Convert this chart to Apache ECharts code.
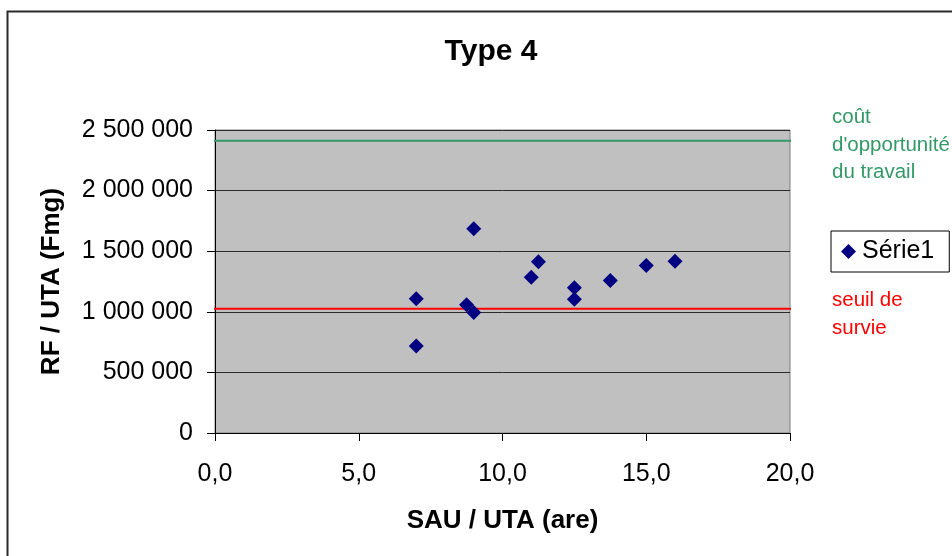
<!DOCTYPE html>
<html>
<head>
<meta charset="utf-8">
<style>
  html, body { margin: 0; padding: 0; background: #ffffff; }
  #chart { width: 952px; height: 556px; }
</style>
<script src="https://cdn.jsdelivr.net/npm/echarts@6/dist/echarts.min.js"></script>
</head>
<body>
<div id="chart"></div>
<script>
// SAU / UTA (are) and RF / UTA (Fmg) for the Type 4 farms
const sauUta = [7.0, 7.0, 9.0, 8.75, 9.0, 11.25, 11.0, 12.5, 12.5, 13.75, 15.0, 16.0];
const rfUta = [1107000, 717000, 1686000, 1058000, 994000, 1412000, 1286000, 1198000, 1104000, 1258000, 1382000, 1418000];

// Reference levels
const coutOpportunite = 2412000;
const seuilSurvie = 1025000;
// horizontal span of the reference lines (in SAU / UTA units)
const refSpan = [-0.15, 20.6];

const fontFamily = 'Arial, "Liberation Sans", Helvetica, sans-serif';

function fmtThousands(v) {
  return String(Math.round(v)).replace(/\B(?=(\d{3})+(?!\d))/g, ' ');
}

const chart = echarts.init(document.getElementById('chart'), null, { renderer: 'canvas' });

const points = sauUta.map((x, i) => [x, rfUta[i]]);

chart.setOption({
  backgroundColor: '#ffffff',
  animation: false,
  textStyle: { fontFamily: fontFamily },
  title: {
    text: 'Type 4',
    left: 486,
    top: 32,
    textAlign: 'center',
    textStyle: { fontFamily: fontFamily, fontSize: 30, fontWeight: 'bold', color: '#000' }
  },
  grid: {
    left: 215, right: 162, top: 130, bottom: 123,
    show: true,
    backgroundColor: '#c0c0c0',
    borderColor: '#808080',
    borderWidth: 1
  },
  legend: {
    left: 831,
    top: 231,
    padding: [8, 15, 8, 10],
    borderColor: '#000',
    borderWidth: 1,
    backgroundColor: '#fff',
    itemWidth: 15,
    itemHeight: 15,
    data: [{ name: 'Série1', icon: 'diamond', itemStyle: { color: '#000080', opacity: 1 } }],
    textStyle: { fontFamily: fontFamily, fontSize: 25, color: '#000', padding: [0, 0, 0, 1] }
  },
  xAxis: {
    type: 'value',
    min: 0, max: 20, interval: 5,
    name: 'SAU / UTA (are)',
    nameLocation: 'middle',
    nameGap: 75,
    nameTextStyle: { fontFamily: fontFamily, fontSize: 26, fontWeight: 'bold', color: '#000' },
    axisLine: { show: true, onZero: false, lineStyle: { color: '#000', width: 1 } },
    axisTick: { show: true, inside: false, length: 8, lineStyle: { color: '#000' } },
    axisLabel: {
      margin: 29,
      fontFamily: fontFamily, fontSize: 25, color: '#000',
      formatter: v => v.toFixed(1).replace('.', ',')
    },
    splitLine: { show: false }
  },
  yAxis: {
    type: 'value',
    min: 0, max: 2500000, interval: 500000,
    name: 'RF / UTA (Fmg)',
    nameLocation: 'middle',
    nameGap: 150,
    nameTextStyle: { fontFamily: fontFamily, fontSize: 26, fontWeight: 'bold', color: '#000' },
    axisLine: { show: true, onZero: false, lineStyle: { color: '#000', width: 1 } },
    axisTick: { show: true, inside: false, length: 8, lineStyle: { color: '#000' } },
    axisLabel: {
      margin: 22,
      fontFamily: fontFamily, fontSize: 25, color: '#000',
      formatter: v => fmtThousands(v)
    },
    splitLine: { show: true, lineStyle: { color: '#2a2a2a', width: 1 } }
  },
  series: [
    {
      name: 'coût',
      type: 'line',
      clip: false,
      silent: true,
      symbol: 'none',
      data: [[refSpan[0], coutOpportunite], [refSpan[1], coutOpportunite]],
      lineStyle: { color: '#339966', width: 2 },
      z: 3
    },
    {
      name: 'seuil',
      type: 'line',
      clip: false,
      silent: true,
      symbol: 'none',
      data: [[refSpan[0], seuilSurvie], [refSpan[1], seuilSurvie]],
      lineStyle: { color: '#ff0000', width: 2 },
      z: 3
    },
    {
      name: 'Série1',
      type: 'scatter',
      symbol: 'diamond',
      symbolSize: 15,
      itemStyle: { color: '#000080', opacity: 1 },
      data: points,
      z: 4
    }
  ],
  graphic: [
    {
      type: 'rect',
      left: 5, top: 9,
      shape: { width: 960, height: 560 },
      style: { fill: 'none', stroke: '#2a2a2a', lineWidth: 2 },
      silent: true,
      z: -1
    },
    {
      type: 'text',
      left: 832, top: 104,
      style: {
        text: "coût\nd'opportunité\ndu travail",
        fill: '#339966',
        font: '20.5px ' + fontFamily,
        lineHeight: 27.5
      }
    },
    {
      type: 'text',
      left: 832, top: 287,
      style: {
        text: 'seuil de\nsurvie',
        fill: '#ff0000',
        font: '20.5px ' + fontFamily,
        lineHeight: 27.5
      }
    }
  ]
});
</script>
</body>
</html>
